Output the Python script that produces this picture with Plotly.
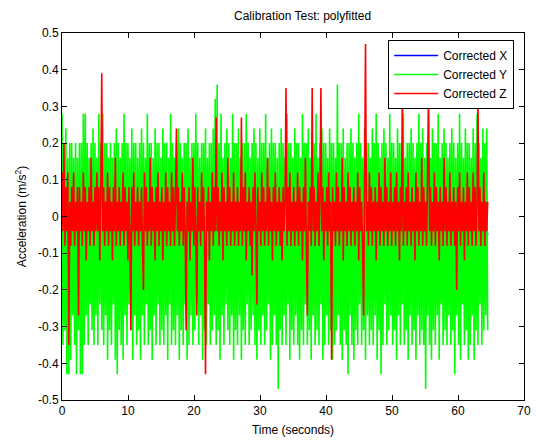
import numpy as np
import plotly.graph_objects as go

T_END = 64.5  # last sample time (s)

corrected_y = [
    0.28, -0.35, 0.2, -0.31, 0.24, -0.43, 0.16, -0.43, 0.2, -0.39, 0.2, -0.27, 0.16, -0.35, 0.2, -0.43, 0.16, -0.31, 0.2, -0.43,
    0.2, -0.43, 0.28, -0.35, 0.28, -0.27, 0.2, -0.35, 0.16, -0.24, 0.2, -0.31, 0.24, -0.35, 0.2, -0.27, 0.16, -0.35, 0.28, -0.24,
    0.2, -0.31, 0.28, -0.35, 0.2, -0.27, 0.2, -0.39, 0.16, -0.31, 0.2, -0.35, 0.16, -0.24, 0.2, -0.39, 0.24, -0.43, 0.2, -0.31,
    0.16, -0.35, 0.2, -0.39, 0.28, -0.27, 0.2, -0.35, 0.2, -0.24, 0.16, -0.31, 0.24, -0.39, 0.2, -0.27, 0.2, -0.35, 0.16, -0.31,
    0.2, -0.39, 0.24, -0.27, 0.2, -0.35, 0.16, -0.24, 0.28, -0.35, 0.2, -0.31, 0.2, -0.39, 0.16, -0.27, 0.24, -0.35, 0.2, -0.24,
    0.2, -0.35, 0.16, -0.31, 0.24, -0.35, 0.2, -0.27, 0.2, -0.39, 0.16, -0.24, 0.28, -0.35, 0.2, -0.31, 0.16, -0.35, 0.2, -0.27,
    0.24, -0.39, 0.2, -0.31, 0.16, -0.35, 0.2, -0.24, 0.2, -0.39, 0.24, -0.35, 0.16, -0.27, 0.2, -0.35, 0.2, -0.31, 0.28, -0.24,
    0.2, -0.35, 0.16, -0.27, 0.2, -0.39, 0.2, -0.31, 0.24, -0.35, 0.16, -0.24, 0.2, -0.35, 0.2, -0.31, 0.24, -0.27, 0.32, -0.35,
    0.36, -0.31, 0.2, -0.39, 0.28, -0.27, 0.16, -0.35, 0.2, -0.24, 0.24, -0.31, 0.2, -0.35, 0.16, -0.27, 0.28, -0.39, 0.2, -0.31,
    0.2, -0.35, 0.24, -0.27, 0.16, -0.39, 0.2, -0.31, 0.2, -0.35, 0.28, -0.24, 0.2, -0.35, 0.16, -0.31, 0.2, -0.27, 0.24, -0.35,
    0.2, -0.39, 0.16, -0.31, 0.24, -0.35, 0.2, -0.27, 0.2, -0.35, 0.28, -0.31, 0.16, -0.24, 0.2, -0.39, 0.24, -0.35, 0.2, -0.27,
    0.2, -0.35, 0.16, -0.47, 0.2, -0.31, 0.24, -0.35, 0.2, -0.27, 0.16, -0.35, 0.28, -0.24, 0.2, -0.39, 0.2, -0.31, 0.16, -0.35,
    0.24, -0.27, 0.2, -0.35, 0.2, -0.39, 0.16, -0.31, 0.28, -0.35, 0.2, -0.24, 0.2, -0.35, 0.24, -0.31, 0.16, -0.39, 0.2, -0.27,
    0.2, -0.35, 0.28, -0.31, 0.16, -0.35, 0.2, -0.24, 0.24, -0.39, 0.2, -0.35, 0.2, -0.27, 0.16, -0.35, 0.24, -0.31, 0.2, -0.39,
    0.2, -0.35, 0.16, -0.31, 0.36, -0.27, 0.2, -0.35, 0.2, -0.39, 0.24, -0.31, 0.16, -0.35, 0.2, -0.43, 0.2, -0.27, 0.24, -0.35,
    0.2, -0.39, 0.16, -0.31, 0.2, -0.35, 0.28, -0.24, 0.2, -0.35, 0.16, -0.31, 0.24, -0.39, 0.2, -0.27, 0.2, -0.35, 0.16, -0.31,
    0.24, -0.35, 0.2, -0.27, 0.28, -0.39, 0.2, -0.31, 0.16, -0.43, 0.2, -0.35, 0.24, -0.24, 0.2, -0.35, 0.16, -0.31, 0.28, -0.27,
    0.2, -0.35, 0.2, -0.31, 0.16, -0.39, 0.24, -0.27, 0.2, -0.35, 0.2, -0.24, 0.28, -0.35, 0.16, -0.31, 0.2, -0.39, 0.2, -0.27,
    0.24, -0.35, 0.2, -0.31, 0.16, -0.39, 0.2, -0.27, 0.28, -0.35, 0.2, -0.31, 0.24, -0.35, 0.16, -0.47, 0.2, -0.27, 0.2, -0.35,
    0.16, -0.39, 0.24, -0.31, 0.2, -0.35, 0.2, -0.27, 0.28, -0.39, 0.16, -0.24, 0.2, -0.35, 0.24, -0.31, 0.2, -0.35, 0.16, -0.27,
    0.2, -0.35, 0.24, -0.31, 0.2, -0.43, 0.16, -0.27, 0.2, -0.35, 0.28, -0.39, 0.2, -0.24, 0.16, -0.35, 0.24, -0.31, 0.2, -0.39,
    0.2, -0.35, 0.16, -0.27, 0.24, -0.39, 0.2, -0.31, 0.28, -0.35, 0.2, -0.24, 0.16, -0.35, 0.24, -0.31, 0.2, -0.27, 0.24, -0.31,
]

corrected_z = [
    0.12, -0.04, 0.2, -0.08, 0.08, -0.04, 0.12, -0.35, 0.04, -0.08, 0.08, -0.04, 0.12, -0.08, 0.04, -0.04, 0.08, -0.27, 0.08, -0.04,
    0.04, -0.08, 0.12, -0.04, 0.08, -0.12, 0.04, -0.04, 0.08, -0.08, 0.16, -0.04, 0.04, -0.08, 0.08, -0.04, 0.12, -0.04, 0.08, -0.12,
    0.08, 0.39, -0.04, 0.08, -0.08, 0.04, -0.04, 0.12, -0.08, 0.08, -0.04, 0.04, -0.12, 0.08, -0.04, 0.16, -0.08, 0.04, -0.04, 0.08,
    -0.08, 0.04, -0.04, 0.12, -0.08, 0.08, -0.04, 0.04, -0.12, 0.08, -0.04, -0.31, 0.08, -0.04, 0.12, -0.08, 0.04, -0.04, 0.08, -0.08,
    0.04, -0.04, 0.08, -0.08, -0.2, 0.12, -0.04, 0.08, -0.08, 0.04, -0.04, 0.16, -0.08, 0.08, -0.04, 0.04, -0.12, 0.08, -0.04, 0.12,
    -0.08, 0.04, -0.04, 0.08, -0.12, 0.04, -0.04, 0.12, -0.08, 0.08, -0.04, 0.04, -0.08, 0.12, -0.04, 0.08, -0.08, 0.04, 0.24, -0.04,
    0.08, -0.08, 0.04, -0.04, 0.12, -0.08, 0.08, -0.04, -0.31, 0.04, -0.04, 0.08, -0.12, 0.04, -0.04, 0.16, -0.08, 0.08, -0.04, -0.27,
    0.08, -0.04, 0.04, -0.08, 0.12, -0.04, 0.08, -0.08, -0.43, 0.04, -0.04, 0.08, -0.12, 0.04, -0.04, 0.12, -0.08, 0.08, -0.04, 0.27,
    -0.04, 0.08, -0.08, 0.04, -0.04, 0.12, -0.12, 0.08, -0.04, 0.04, -0.08, 0.16, -0.04, 0.08, -0.08, 0.04, -0.04, 0.12, -0.08, 0.04,
    -0.04, 0.08, -0.08, 0.04, -0.04, 0.27, -0.08, 0.08, -0.04, 0.12, -0.12, 0.04, -0.04, 0.08, -0.08, 0.04, -0.16, 0.08, -0.04, 0.12,
    -0.04, -0.24, 0.08, -0.04, 0.04, -0.08, 0.12, -0.04, 0.08, -0.08, 0.04, -0.04, 0.16, -0.08, 0.08, -0.04, 0.04, -0.12, 0.08, -0.04,
    0.12, -0.08, 0.04, -0.04, 0.08, -0.08, 0.04, -0.12, 0.08, -0.04, 0.04, 0.35, -0.08, 0.08, -0.04, 0.12, -0.08, 0.04, -0.04, 0.08,
    -0.08, 0.04, -0.04, 0.12, -0.08, 0.08, -0.04, 0.04, -0.12, 0.08, -0.04, 0.16, -0.08, -0.27, 0.04, -0.04, 0.08, -0.08, 0.35, -0.04,
    0.08, -0.08, 0.04, -0.04, 0.12, -0.08, 0.04, 0.35, -0.04, 0.08, -0.12, 0.04, -0.04, 0.08, -0.08, 0.12, -0.04, 0.04, -0.39, 0.08,
    -0.04, 0.04, -0.08, 0.12, -0.04, 0.08, -0.08, 0.04, -0.04, 0.16, -0.12, 0.08, -0.04, 0.04, -0.08, 0.12, -0.04, 0.08, -0.08, 0.04,
    -0.04, 0.08, -0.08, 0.04, -0.04, 0.12, -0.12, 0.08, -0.04, 0.04, -0.08, -0.27, 0.08, 0.47, -0.04, 0.04, -0.08, 0.12, -0.04, 0.08,
    -0.08, 0.04, -0.04, 0.08, -0.12, 0.04, -0.04, 0.12, -0.08, 0.08, -0.04, 0.04, -0.08, 0.16, -0.04, 0.08, -0.08, 0.04, -0.04, 0.12,
    -0.08, 0.04, -0.04, 0.08, -0.08, 0.12, -0.04, 0.04, -0.12, 0.08, -0.04, 0.35, -0.08, 0.04, -0.04, 0.08, -0.08, 0.12, -0.04, 0.04,
    -0.08, 0.08, -0.04, 0.04, -0.12, 0.12, -0.04, 0.08, -0.08, 0.04, -0.04, 0.16, -0.08, 0.08, -0.04, 0.04, -0.08, 0.12, 0.35, -0.04,
    0.08, -0.08, 0.04, -0.04, 0.12, -0.08, 0.08, -0.04, 0.04, -0.12, 0.08, -0.04, 0.04, -0.08, 0.16, -0.04, 0.08, -0.08, 0.04, -0.04,
    0.12, -0.08, 0.04, -0.04, 0.08, -0.08, 0.04, -0.2, 0.08, -0.04, 0.12, -0.08, 0.04, -0.04, 0.08, -0.12, 0.04, -0.04, 0.12, -0.08,
    0.08, -0.04, 0.04, -0.08, 0.12, -0.04, 0.08, -0.08, 0.04, 0.31, -0.04, 0.08, -0.08, 0.04, -0.04, 0.12, -0.08, 0.04, -0.04, 0.04,
]

corrected_x = [
    0.02, -0.02, 0.03, -0.01, 0.02, -0.03, 0.01, -0.02, 0.03, -0.02,
    0.01, -0.03, 0.02, -0.01, 0.03, -0.02, 0.02, -0.03, 0.01, -0.02,
    0.03, -0.01, 0.02, -0.03, 0.01, -0.02, 0.03, -0.02, 0.02, -0.01,
    0.02, -0.03, 0.01, -0.02, 0.03, -0.01, 0.02, -0.03, 0.01, -0.02,
    0.03, -0.02, 0.02, -0.01, 0.01, -0.03, 0.02, -0.02, 0.03, -0.01,
    0.02, -0.02, 0.01, -0.03, 0.03, -0.02, 0.02, -0.01, 0.01, -0.03,
    0.02, -0.02, 0.03, -0.01, 0.02, -0.03, 0.01, -0.02, 0.03, -0.02,
    0.01, -0.03, 0.02, -0.01, 0.03, -0.02, 0.02, -0.03, 0.01, -0.02,
    0.02, 0.01, -0.06, -0.02, 0.01, -0.03, 0.02, -0.01, 0.03, -0.02,
    0.02, -0.03, 0.01, -0.02, 0.03, -0.01, 0.02, -0.03, 0.01, -0.02,
    0.03, -0.02, 0.02, -0.01, 0.02, -0.03, -0.09, 0.01, 0.02, -0.05,
]

x_ticks = [0, 10, 20, 30, 40, 50, 60, 70]
y_ticks = [0.5, 0.4, 0.3, 0.2, 0.1, 0, -0.1, -0.2, -0.3, -0.4, -0.5]
y_tick_text = ["0.5", "0.4", "0.3", "0.2", "0.1", "0", "-0.1", "-0.2", "-0.3", "-0.4", "-0.5"]

t_yz = np.arange(len(corrected_y)) * (T_END / (len(corrected_y) - 1))
t_x = np.arange(len(corrected_x)) * (T_END / (len(corrected_x) - 1))

FONT = "Liberation Sans, Arial, sans-serif"

fig = go.Figure()
fig.add_trace(go.Scatter(x=t_x, y=corrected_x, mode="lines", name="Corrected X",
                         line=dict(color="#0000ff", width=1.6, simplify=False)))
fig.add_trace(go.Scatter(x=t_yz, y=corrected_y, mode="lines", name="Corrected Y",
                         line=dict(color="#00ff00", width=1.6, simplify=False)))
fig.add_trace(go.Scatter(x=t_yz, y=corrected_z, mode="lines", name="Corrected Z",
                         line=dict(color="#ff0000", width=1.6, simplify=False)))

axis_common = dict(showgrid=False, zeroline=False, showline=True, linecolor="black",
                   linewidth=1, mirror="ticks", ticks="inside", ticklen=5,
                   tickcolor="black", tickfont=dict(family=FONT, size=12, color="black"))

fig.update_layout(
    width=538, height=442,
    margin=dict(l=62, r=7, t=33, b=41),
    paper_bgcolor="white", plot_bgcolor="white",
    font=dict(family=FONT, size=12, color="black"),
    title=dict(text="Calibration Test: polyfitted", x=0.5625, xanchor="center",
               y=0.964, yanchor="middle", font=dict(family=FONT, size=12)),
    xaxis=dict(range=[0, 70], tickvals=x_ticks,
               title=dict(text="Time (seconds)", standoff=8, font=dict(size=12)), **axis_common),
    yaxis=dict(range=[-0.5, 0.5], tickvals=y_ticks, ticktext=y_tick_text,
               title=dict(text="Acceleration (m/s<sup>2</sup>)", standoff=8, font=dict(size=12)),
               **axis_common),
    legend=dict(x=0.9787, xanchor="right", y=0.981, yanchor="top",
                bgcolor="white", bordercolor="black", borderwidth=1, itemwidth=44,
                font=dict(family=FONT, size=12), tracegroupgap=0),
    showlegend=True,
)

fig.write_html("out.html")
